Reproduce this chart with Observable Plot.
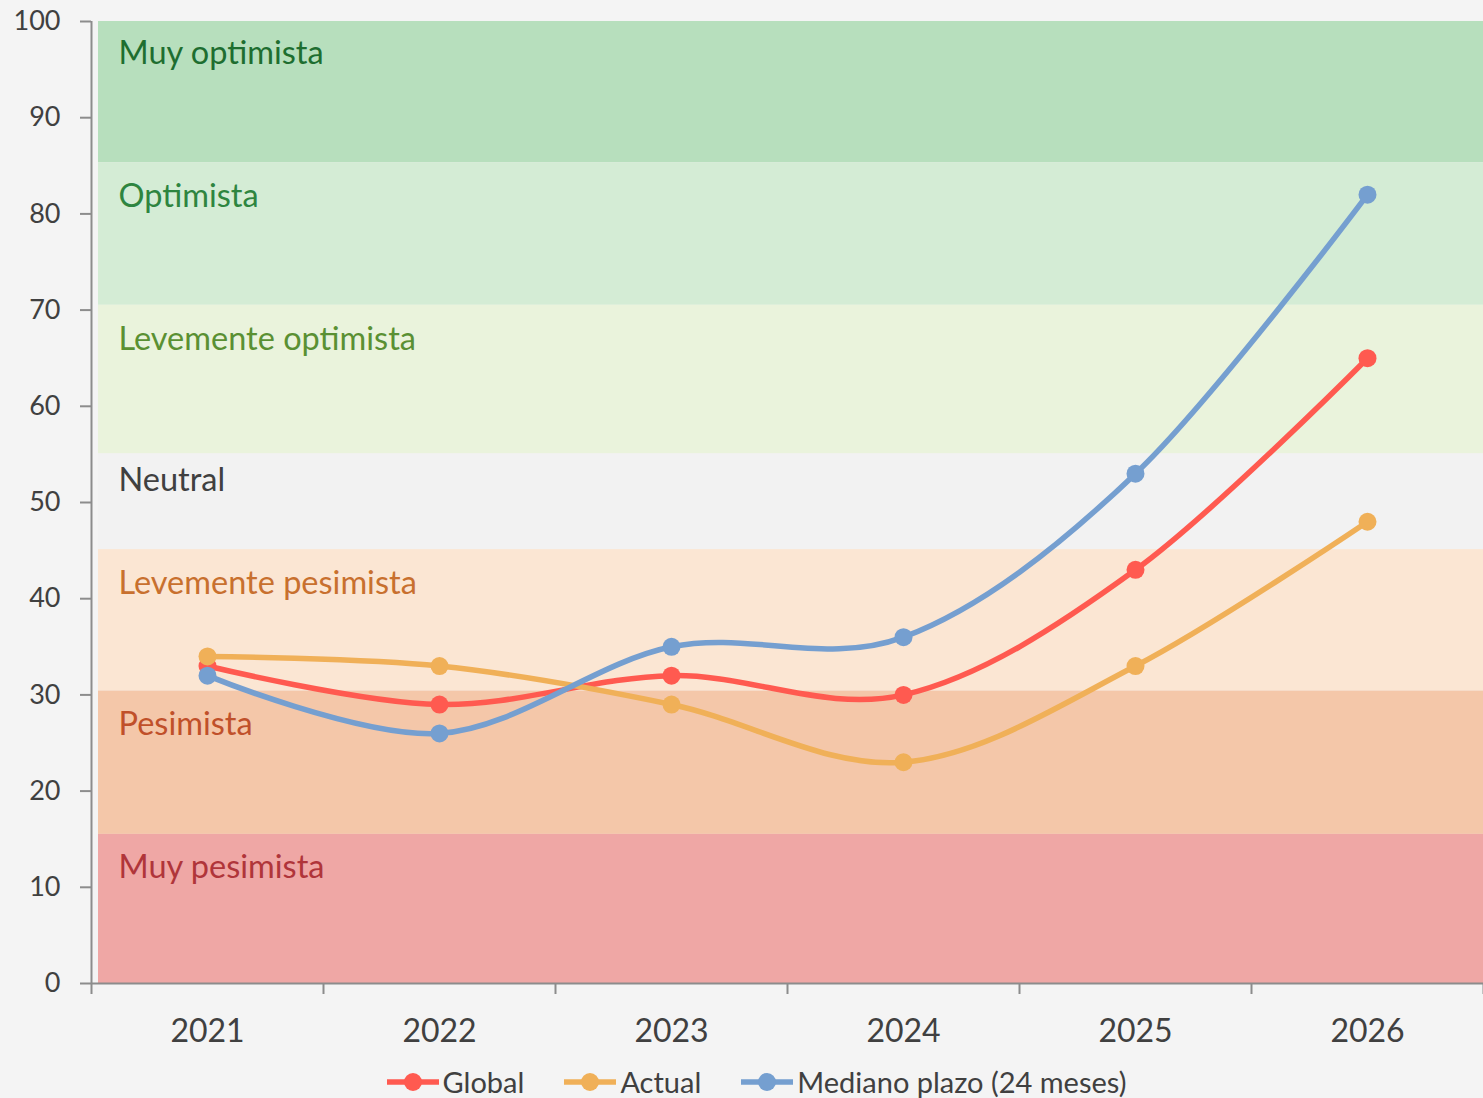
<!DOCTYPE html>
<html>
<head>
<meta charset="utf-8">
<script src="https://cdn.jsdelivr.net/npm/d3@7"></script>
<script src="https://cdn.jsdelivr.net/npm/@observablehq/plot@0.6"></script>
<style>
  html, body { margin: 0; padding: 0; background: #f4f4f4; overflow: hidden; }
  #chart { width: 1483px; height: 1050px; }
  #legend { display: flex; justify-content: center; align-items: center; gap: 40px; height: 32px; line-height: 32px;
    padding-left: 30px; padding-top: 16px; font-family: Lato, "Noto Sans", sans-serif; font-size: 29px; color: #404040; }
  #legend .item { display: flex; align-items: center; gap: 4px; }
</style>
</head>
<body>
<div id="chart"></div>
<div id="legend"></div>
<script>
// ---- data ----
const years = [2021, 2022, 2023, 2024, 2025, 2026];
const globalVals = [33, 29, 32, 30, 43, 65];
const actualVals = [34, 33, 29, 23, 33, 48];
const medianoVals = [32, 26, 35, 36, 53, 82];
const seriesNames = ["Global", "Actual", "Mediano plazo (24 meses)"];
const seriesColors = ["#ff5a50", "#f0b058", "#759fd0"];

const bandNames = ["Muy optimista", "Optimista", "Levemente optimista", "Neutral", "Levemente pesimista", "Pesimista", "Muy pesimista"];
const bandLow = [85.3, 70.5, 55.05, 45.1, 30.4, 15.5, 0];
const bandHigh = [100, 85.3, 70.5, 55.05, 45.1, 30.4, 15.5];
const bandFills = ["#b7dfbd", "#d4ecd5", "#eaf3dc", "#f2f2f2", "#fbe6d3", "#f4c7a9", "#efa7a5"];
const bandTextColors = ["#1e6e30", "#2e8540", "#5a9033", "#404040", "#c8702e", "#c0502a", "#b0353a"];
const bandLabelY = [96.7, 81.8, 66.9, 52.3, 41.6, 26.9, 12.1];
const yTicks = [0, 10, 20, 30, 40, 50, 60, 70, 80, 90, 100];

// ---- derived tables ----
const xMin = years[0] - 0.5, xMax = years[years.length - 1] + 0.5;
const boundaries = years.map(y => y - 0.5).concat([xMax]);
const seriesVals = [globalVals, actualVals, medianoVals];
const series = seriesNames.map((name, i) => years.map((yr, j) => ({year: yr, value: seriesVals[i][j], name})));
const bands = bandNames.map((name, i) => ({name, lo: bandLow[i], hi: bandHigh[i], fill: bandFills[i], color: bandTextColors[i], ly: bandLabelY[i]}));

const axisColor = "#8c8c8c";
const font = "Lato, 'Noto Sans', sans-serif";

const marks = [];
bands.forEach(b => {
  marks.push(Plot.rect([b], {x1: () => xMin, x2: () => xMax, y1: "lo", y2: "hi", fill: b.fill, insetLeft: 7}));
});
bands.forEach(b => {
  marks.push(Plot.text([b], {y: "ly", text: "name", frameAnchor: "left", dx: 27, textAnchor: "start", fill: b.color, fontSize: 32.5, fontFamily: font}));
});
marks.push(Plot.ruleX([xMin], {stroke: axisColor, strokeWidth: 2}));
marks.push(Plot.ruleY([0], {stroke: axisColor, strokeWidth: 2}));
marks.push(Plot.axisY({ticks: yTicks, tickSize: 11, tickPadding: 20, fontSize: 27, stroke: axisColor, strokeWidth: 2, fill: "#404040", label: null, fontFamily: font}));
marks.push(Plot.axisX({ticks: years, tickSize: 0, tickPadding: 36, fontSize: 32, fill: "#404040", label: null, tickFormat: d => String(d), fontFamily: font}));
marks.push(Plot.axisX({ticks: boundaries, tickSize: 11, tickFormat: () => "", stroke: axisColor, strokeWidth: 2, label: null}));
series.forEach((s, i) => {
  marks.push(Plot.line(s, {x: "year", y: "value", stroke: seriesColors[i], strokeWidth: 5.5, curve: "cardinal"}));
  marks.push(Plot.dot(s, {x: "year", y: "value", r: 9, fill: seriesColors[i]}));
});

const chart = Plot.plot({
  width: 1483,
  height: 1050,
  marginLeft: 91,
  marginRight: 0,
  marginTop: 21,
  marginBottom: 67,
  style: {background: "transparent", fontFamily: font, color: "#404040"},
  x: {type: "linear", domain: [xMin, xMax]},
  y: {domain: [0, 100]},
  marks
});
document.getElementById("chart").appendChild(chart);

// ---- legend ----
const legend = document.getElementById("legend");
seriesNames.forEach((name, i) => {
  const item = document.createElement("div");
  item.className = "item";
  item.innerHTML = `<svg width="52" height="20"><line x1="0" y1="10" x2="52" y2="10" stroke="${seriesColors[i]}" stroke-width="5.5"/><circle cx="26" cy="10" r="9" fill="${seriesColors[i]}"/></svg><span>${name}</span>`;
  legend.appendChild(item);
});
</script>
</body>
</html>
